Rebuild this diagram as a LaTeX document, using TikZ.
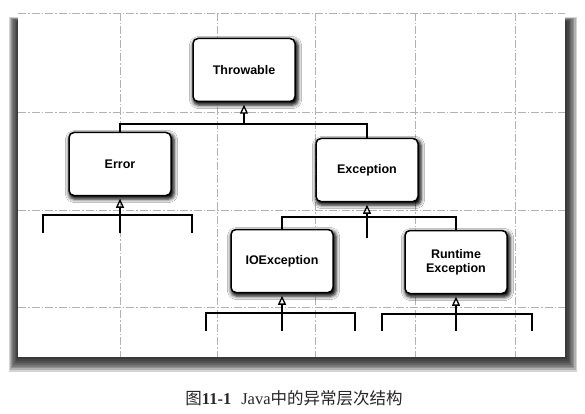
\documentclass[tikz,border=0pt]{standalone}
\usepackage{fontspec}
\setmainfont{Liberation Sans}
\newfontfamily\cjk{Noto Sans CJK SC}
\newfontfamily\capserif{Liberation Serif}
\usetikzlibrary{arrows.meta,shadows.blur}
\begin{document}
\begin{tikzpicture}[x=1pt,y=-1pt,
  cls/.style={draw, line width=1.5pt, rounded corners=5pt, fill=white,
    minimum width=102pt, minimum height=63pt, align=center, inner sep=0pt,
    font=\fontsize{12.5}{14}\selectfont\bfseries,
    blur shadow={shadow xshift=1.5pt, shadow yshift=-2.5pt, shadow blur radius=3.5pt, shadow opacity=100, shadow scale=1.03}},
  conn/.style={line width=1.4pt},
  inh/.style={conn, -{Triangle[open, width=8pt, length=9pt, line width=1.3pt]}, shorten >=2.5pt},
  gridline/.style={black!30, line width=0.5pt, dash pattern=on 8pt off 2pt on 1.5pt off 2pt},
  papershade/.style={black, opacity=0.17}]
\useasboundingbox (0,0) rectangle (585,414);
\fill[white] (0,0) rectangle (585,414);
% paper shadow, built from stacked translucent layers
\foreach \i in {0,...,7}
  \fill[papershade] ({9+\i*1.1},{17+\i*0.6}) rectangle ({577-\i*1.4},{372-\i*1.8});
\fill[white] (18,13) rectangle (565,357);
% grid
\foreach \gx in {120,217,315,415,515} \draw[gridline] (\gx,13) -- (\gx,357);
\foreach \gy in {13,112,210,307} \draw[gridline] (18,\gy) -- (565,\gy);
% classes
\node[cls] (T)  at (244,70)  {Throwable};
\node[cls] (E)  at (120,164) {Error};
\node[cls] (X)  at (367,170) {Exception};
\node[cls] (IO) at (282,261) {IOException};
\node[cls] (R)  at (456,262) {Runtime\\Exception};
% Throwable children
\coordinate (tb) at (244,124);
\draw[conn] (E.north) |- (tb) -| (X.north);
\draw[inh] (tb) -- (T.south);
% Error children
\coordinate (e1) at (43,233);
\coordinate (e2) at (192,233);
\coordinate (e0) at (120,233);
\draw[conn] (e1) -- ++(0,-18) -| (e2);
\draw[inh] (e0) -- (E.south);
% Exception children
\coordinate (xb) at (367,217);
\coordinate (x0) at (367,238);
\draw[conn] (IO.north) |- (xb) -| (R.north);
\draw[inh] (x0) -- (X.south);
% IOException children
\coordinate (i1) at (206,331);
\coordinate (i2) at (355,331);
\coordinate (i0) at (282,331);
\draw[conn] (i1) -- ++(0,-18) -| (i2);
\draw[inh] (i0) -- (IO.south);
% RuntimeException children
\coordinate (r1) at (382,331);
\coordinate (r2) at (532,331);
\coordinate (r0) at (456,331);
\draw[conn] (r1) -- ++(0,-17) -| (r2);
\draw[inh] (r0) -- (R.south);
% caption
\node[font=\fontsize{16.5}{18}\selectfont, text=black!85] (cap) at (294,398)
  {{\cjk 图}{\capserif\bfseries 11-1}\hspace{10pt}{\capserif Java}{\cjk 中的异常层次结构}};
\end{tikzpicture}
\end{document}
